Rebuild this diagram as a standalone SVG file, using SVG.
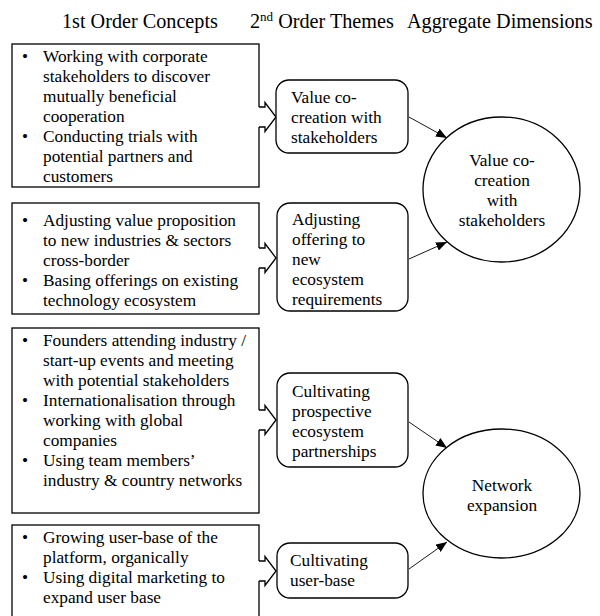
<svg xmlns="http://www.w3.org/2000/svg" width="600" height="616" viewBox="0 0 600 616">
<defs>
<style>
text{font-family:"Liberation Serif","Times New Roman",serif;fill:#000}
.h{font-size:20.2px}
.t{font-size:17.3px}
.c{font-size:17.3px;text-anchor:middle}
.box{fill:#fff;stroke:#000;stroke-width:1.3}
.rb{fill:#fff;stroke:#000;stroke-width:1.3}
.el{fill:#fff;stroke:#000;stroke-width:1.3}
.bf{fill:#fff;stroke:none}
.bs{fill:none;stroke:#000;stroke-width:1.3;stroke-linejoin:miter}
.ln{stroke:#000;stroke-width:0.9;fill:none}
</style>
<marker id="ah" markerUnits="userSpaceOnUse" markerWidth="12" markerHeight="10" refX="11" refY="4.5" orient="auto">
<path d="M0,0 L11,4.5 L0,9 Z" fill="#000"/>
</marker>
</defs>
<rect width="600" height="616" fill="#fff"/>

<g id="headers">
<text class="h" x="62" y="28">1st Order Concepts</text>
<text class="h" x="250" y="28">2<tspan font-size="13" dy="-7">nd</tspan><tspan dy="7"> Order Themes</tspan></text>
<text class="h" x="407" y="28">Aggregate Dimensions</text>
</g>

<g id="concepts1">
<rect class="box" x="12" y="44" width="247" height="143"/>
<text class="t"><tspan x="22" y="62">•</tspan><tspan x="43" y="62">Working with corporate</tspan><tspan x="43" y="82">stakeholders to discover</tspan><tspan x="43" y="102">mutually beneficial</tspan><tspan x="43" y="122">cooperation</tspan><tspan x="22" y="142">•</tspan><tspan x="43" y="142">Conducting trials with</tspan><tspan x="43" y="162">potential partners and</tspan><tspan x="43" y="182">customers</tspan></text>
</g>
<g id="concepts2">
<rect class="box" x="12" y="203" width="247" height="111"/>
<text class="t"><tspan x="22" y="226">•</tspan><tspan x="43" y="226">Adjusting value proposition</tspan><tspan x="43" y="246">to new industries &amp; sectors</tspan><tspan x="43" y="266">cross-border</tspan><tspan x="22" y="286">•</tspan><tspan x="43" y="286">Basing offerings on existing</tspan><tspan x="43" y="306">technology  ecosystem</tspan></text>
</g>
<g id="concepts3">
<rect class="box" x="12" y="328" width="247" height="185"/>
<text class="t"><tspan x="22" y="346">•</tspan><tspan x="43" y="346">Founders attending industry /</tspan><tspan x="43" y="366">start-up events and meeting</tspan><tspan x="43" y="386">with potential stakeholders</tspan><tspan x="22" y="406">•</tspan><tspan x="43" y="406">Internationalisation through</tspan><tspan x="43" y="426">working with global</tspan><tspan x="43" y="446">companies</tspan><tspan x="22" y="466">•</tspan><tspan x="43" y="466">Using team members’</tspan><tspan x="43" y="486">industry &amp; country networks</tspan></text>
</g>
<g id="concepts4">
<rect class="box" x="12" y="525" width="247" height="100"/>
<text class="t"><tspan x="22" y="543">•</tspan><tspan x="43" y="543">Growing user-base of the</tspan><tspan x="43" y="563">platform, organically</tspan><tspan x="22" y="583">•</tspan><tspan x="43" y="583">Using digital marketing to</tspan><tspan x="43" y="603">expand user base</tspan></text>
</g>

<g id="blockarrows">
<path class="bf" d="M257.5,107 H265 V102.5 L276,117 L265,131.5 V127 H257.5 Z"/>
<path class="bs" d="M259,107 H265 V102.5 L276,117 L265,131.5 V127 H259"/>
<path class="bf" d="M257.5,248 H265 V243.5 L276,258 L265,272.5 V268 H257.5 Z"/>
<path class="bs" d="M259,248 H265 V243.5 L276,258 L265,272.5 V268 H259"/>
<path class="bf" d="M257.5,410 H265 V405.5 L276,420 L265,434.5 V430 H257.5 Z"/>
<path class="bs" d="M259,410 H265 V405.5 L276,420 L265,434.5 V430 H259"/>
<path class="bf" d="M257.5,561 H265 V556.5 L276,571 L265,585.5 V581 H257.5 Z"/>
<path class="bs" d="M259,561 H265 V556.5 L276,571 L265,585.5 V581 H259"/>
</g>

<g id="theme1">
<rect class="rb" x="276" y="80" width="132" height="73" rx="13"/>
<text class="t"><tspan x="291" y="103">Value co-</tspan><tspan x="291" y="123">creation with</tspan><tspan x="291" y="143">stakeholders</tspan></text>
</g>
<g id="theme2">
<rect class="rb" x="277" y="203" width="131" height="108" rx="13"/>
<text class="t"><tspan x="292" y="225">Adjusting</tspan><tspan x="292" y="245">offering to</tspan><tspan x="292" y="265">new</tspan><tspan x="292" y="285">ecosystem</tspan><tspan x="292" y="305">requirements</tspan></text>
</g>
<g id="theme3">
<rect class="rb" x="277" y="373" width="131" height="94" rx="13"/>
<text class="t"><tspan x="292" y="397">Cultivating</tspan><tspan x="292" y="417">prospective</tspan><tspan x="292" y="437">ecosystem</tspan><tspan x="292" y="457">partnerships</tspan></text>
</g>
<g id="theme4">
<rect class="rb" x="277" y="543" width="131" height="55" rx="13"/>
<text class="t"><tspan x="290" y="566">Cultivating</tspan><tspan x="290" y="586">user-base</tspan></text>
</g>

<g id="dim1">
<ellipse class="el" cx="501.5" cy="189.5" rx="78.5" ry="72.5"/>
<text class="c"><tspan x="502" y="166">Value co-</tspan><tspan x="502" y="186">creation</tspan><tspan x="502" y="206">with</tspan><tspan x="502" y="226">stakeholders</tspan></text>
</g>
<g id="dim2">
<ellipse class="el" cx="501.5" cy="493.5" rx="78.5" ry="64.5"/>
<text class="c"><tspan x="502" y="491">Network</tspan><tspan x="502" y="511">expansion</tspan></text>
</g>

<g id="connectors">
<line class="ln" x1="409" y1="117" x2="447" y2="138" marker-end="url(#ah)"/>
<line class="ln" x1="409" y1="259" x2="447" y2="242" marker-end="url(#ah)"/>
<line class="ln" x1="409" y1="422" x2="447" y2="448" marker-end="url(#ah)"/>
<line class="ln" x1="409" y1="569" x2="447" y2="542" marker-end="url(#ah)"/>
</g>
</svg>
